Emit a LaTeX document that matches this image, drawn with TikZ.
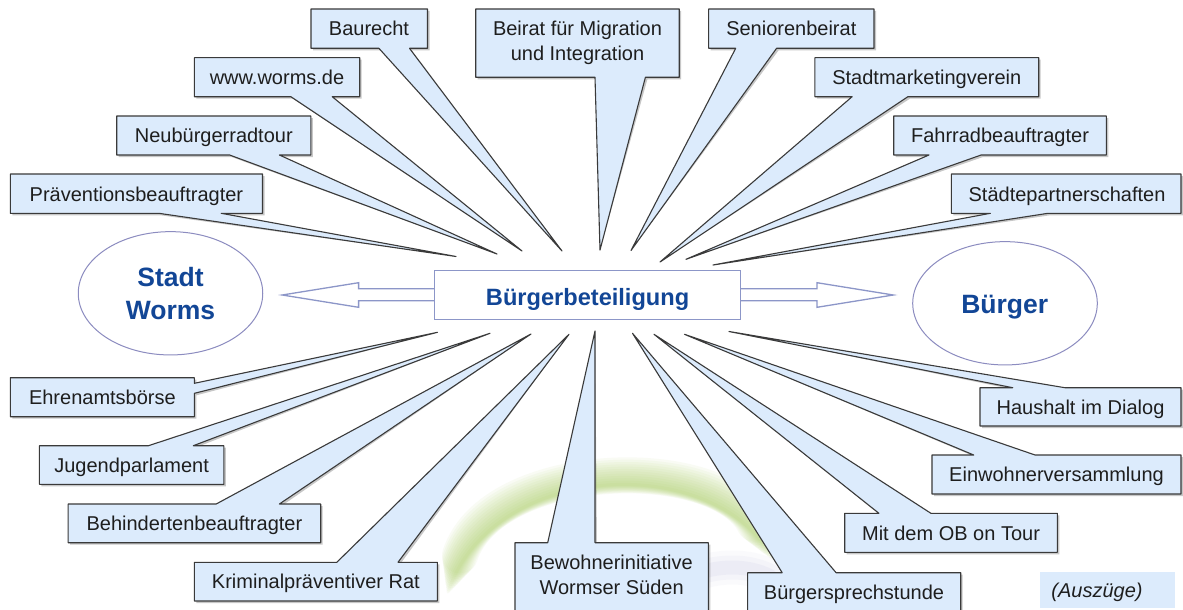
\documentclass[tikz,border=0pt]{standalone}
\usepackage{fontspec}
\setmainfont{Liberation Sans}
\usetikzlibrary{shapes.geometric}
\definecolor{cfill}{RGB}{220,235,252}
\definecolor{cline}{RGB}{58,58,58}
\definecolor{ctextc}{RGB}{30,30,30}
\definecolor{tblue}{RGB}{18,70,150}
\definecolor{eline}{RGB}{140,140,192}
\definecolor{bline}{RGB}{140,150,200}
\definecolor{swgreen}{RGB}{160,200,80}
\definecolor{swblue}{RGB}{165,165,215}
\tikzset{
  cbox/.style={fill=cfill, draw=cline, line width=1.1pt, line join=round},
  cshadow/.style={fill=black, opacity=0.22},
  ctext/.style={font=\fontsize{20}{24.5}\selectfont, text=ctextc, inner sep=0pt, anchor=base},
  ctwo/.style={font=\fontsize{20}{24.5}\selectfont, text=ctextc, inner sep=0pt, align=center},
  btext/.style={font=\bfseries\fontsize{26.5}{32.5}\selectfont, text=tblue, inner sep=0pt, anchor=base},
  ellbox/.style={ellipse, draw=eline, line width=1pt, inner sep=0pt},
  arrowbox/.style={draw=bline, line width=1.3pt, fill=white, line join=miter}
}
% callout with tail on the bottom edge: x1,y1,x2,y2,b1,b2,tip
\newcommand\cotop[7]{%
  \fill[cshadow] (#1+2,#2+2) -- (#3+2,#2+2) -- (#3+2,#4+2) -- (#6+2,#4+2) -- (#7) -- (#5+2,#4+2) -- (#1+2,#4+2) -- cycle;
  \filldraw[cbox] (#1,#2) -- (#3,#2) -- (#3,#4) -- (#6,#4) -- (#7) -- (#5,#4) -- (#1,#4) -- cycle;}
% callout with tail on the top edge
\newcommand\cobot[7]{%
  \fill[cshadow] (#1+2,#2+2) -- (#5+2,#2+2) -- (#7) -- (#6+2,#2+2) -- (#3+2,#2+2) -- (#3+2,#4+2) -- (#1+2,#4+2) -- cycle;
  \filldraw[cbox] (#1,#2) -- (#5,#2) -- (#7) -- (#6,#2) -- (#3,#2) -- (#3,#4) -- (#1,#4) -- cycle;}
\begin{document}
\begin{tikzpicture}[x=1pt,y=-1pt]
\useasboundingbox (0,0) rectangle (1183,610);
\clip (0,0) rectangle (1183,610);
\fill[white] (0,0) rectangle (1183,610);

% soft swoosh
\foreach \i in {1,...,12}{
  \pgfmathsetmacro\wd{3*\i}
  \pgfmathsetmacro\sh{(\i-1)*3.5}
  \draw[swgreen, line width=\wd pt, opacity=0.058, line cap=round, shorten <=\sh pt, shorten >=\sh pt]
    (448,592) .. controls (492,458) and (718,452) .. (772,558);
}
\foreach \w/\o in {34/0.05,24/0.07,14/0.09}{
  \draw[swblue, line width=\w pt, opacity=\o, line cap=round]
    (662,590) .. controls (700,566) and (740,561) .. (770,576);
}

% ellipses
\node[ellbox, minimum width=184.5pt, minimum height=123.3pt] (stadt) at (170.5,293.3) {};
\node[btext] (stadtA) at (170.5,286.7) {Stadt};
\node[btext] (stadtB) at (170.5,319.3) {Worms};
\node[ellbox, minimum width=184.6pt, minimum height=123.3pt] (buerger) at (1005,303.3) {};
\node[btext] (buergerT) at (1004.7,313.3) {Bürger};

% centre box with double arrows
\filldraw[arrowbox] (434.5,288.7) -- (358.6,288.7) -- (358.6,282.7) -- (282.2,295) -- (358.6,307.3) -- (358.6,300.7) -- (434.5,300.7);
\filldraw[arrowbox] (740.6,288.7) -- (817,288.7) -- (817,282.7) -- (893.3,295) -- (817,307.3) -- (817,300.7) -- (740.6,300.7);
\node[draw=bline, line width=1.3pt, fill=white, minimum width=306pt, minimum height=48.6pt, inner sep=0pt] (bb) at (587.5,295) {};
\node[font=\bfseries\fontsize{23.6}{28}\selectfont, text=tblue, inner sep=0pt, anchor=base] (bbT) at (587.6,305) {Bürgerbeteiligung};

% top callouts
\cotop{10.3}{174}{262.5}{213.3}{158.8}{221.2}{456,256.5}
\cotop{116.7}{116}{310.8}{155}{229.6}{279.4}{497,254}
\cotop{194.4}{57.7}{359.7}{96.7}{290.9}{332.2}{522,251}
\cotop{311}{9}{427.5}{48.3}{378.9}{409.5}{562,251}
\cotop{475.7}{9}{679.2}{77.3}{595}{645.4}{600,250}
\cotop{708.6}{9}{874}{48.3}{735.7}{776.6}{631,250.5}
\cotop{814.9}{57.7}{1038.7}{96.7}{852.1}{907.9}{660,262}
\cotop{893.7}{116}{1106.4}{155}{929}{981.1}{686,259.3}
\cotop{951.4}{174}{1181}{213.3}{990.4}{1048}{713,265}

\node[ctext] (praev) at (136.4,201) {Präventionsbeauftragter};
\node[ctext] (neub) at (213.8,142.8) {Neubürgerradtour};
\node[ctext] (www) at (277,84.5) {www.worms.de};
\node[ctext] (baur) at (369,35.8) {Baurecht};
\node[ctwo] (beirat) at (577.5,42.7) {Beirat für Migration\\und Integration};
\node[ctext] (senior) at (791.3,35.8) {Seniorenbeirat};
\node[ctext] (stadtm) at (926.8,84.5) {Stadtmarketingverein};
\node[ctext] (fahrrad) at (1000,142.8) {Fahrradbeauftragter};
\node[ctext] (staedte) at (1067,201) {Städtepartnerschaften};

% bottom callouts
\fill[cshadow] (12.3,379.7) -- (196.4,379.7) -- (196.4,385.3) -- (437.5,332.3) -- (196.4,395.3) -- (196.4,418.7) -- (12.3,418.7) -- cycle;
\filldraw[cbox] (10.3,377.7) -- (194.4,377.7) -- (194.4,383.3) -- (437.5,332.3) -- (194.4,393.3) -- (194.4,416.7) -- (10.3,416.7) -- cycle;
\cobot{39.4}{445.7}{223.9}{484.3}{148.5}{193.3}{490,333.3}
\cobot{68.1}{504}{320.7}{542.7}{216.2}{279.4}{531,334}
\cobot{194.4}{562.3}{437.4}{601}{336.8}{398}{569,334.3}
\cobot{515}{542.7}{708.3}{625}{547.7}{595}{595,331}
\cobot{747.6}{572.7}{960.7}{625}{782.2}{836.1}{632.5,333.3}
\cobot{844.7}{513.3}{1057.3}{552.3}{878.9}{930.9}{654,334.3}
\cobot{932}{455}{1181}{494}{973.7}{1035}{684.5,334.3}
\cobot{980}{387.7}{1181}{426}{1012.7}{1064.8}{729,331.5}

\node[ctext] (ehren) at (102.4,404.5) {Ehrenamtsbörse};
\node[ctext] (jugend) at (131.6,472.5) {Jugendparlament};
\node[ctext] (behind) at (194.4,530.8) {Behindertenbeauftragter};
\node[ctext] (krimi) at (315.9,588.8) {Kriminalpräventiver Rat};
\node[ctwo] (bewohn) at (611.6,575) {Bewohnerinitiative\\Wormser Süden};
\node[ctext] (sprech) at (854,599.5) {Bürgersprechstunde};
\node[ctext] (ob) at (951,540.1) {Mit dem OB on Tour};
\node[ctext] (einw) at (1056.5,481.8) {Einwohnerversammlung};
\node[ctext] (haus) at (1080.5,414.5) {Haushalt im Dialog};

% note
\fill[cfill] (1039.5,571.7) rectangle (1174.5,608.3);
\node[ctext, font=\itshape\fontsize{20}{24}\selectfont] (ausz) at (1097,597) {(Auszüge)};
\end{tikzpicture}
\end{document}
